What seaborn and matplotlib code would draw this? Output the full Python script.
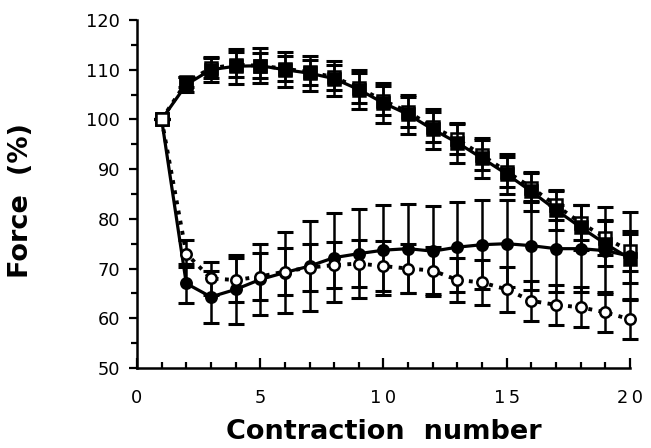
import numpy as np
import pandas as pd
import matplotlib
matplotlib.use("Agg")
import matplotlib.pyplot as plt
import seaborn as sns
from matplotlib.ticker import MultipleLocator

contraction = list(range(1, 21))

sq_filled = [100, 107, 110, 110.7, 110.8, 110, 109.3, 108.2, 106, 103.3, 101, 98, 95.3, 92.2, 89, 85.5, 81.8, 78.3, 75, 72]
sq_filled_err = [0, 1.5, 2.5, 3.5, 3.5, 3.5, 3.5, 3.5, 4, 4, 4, 4, 4, 4, 4, 4, 4, 4.5, 4.5, 5]
sq_open = [100, 107.5, 110.3, 111, 110.8, 110.2, 109.5, 108.5, 106.3, 103.8, 101.5, 98.5, 96, 92.8, 89.5, 86.3, 82.7, 79.2, 76.2, 73.5]
sq_open_err = [0, 1, 2, 2.5, 2.5, 2.5, 2.5, 2.5, 3, 3, 3, 3, 3, 3, 3, 3, 3, 3.5, 3.5, 4]

ci_filled = [100, 67, 64.3, 65.8, 67.8, 69.2, 70.5, 72.2, 73, 73.7, 74, 73.5, 74.3, 74.8, 75, 74.6, 74, 74, 73.6, 72.5]
ci_filled_err = [0, 4, 5.2, 7, 7.2, 8.2, 9, 9, 9, 9, 9, 9, 9, 9, 8.8, 9, 8.8, 8.8, 8.8, 8.8]
ci_open = [100, 73, 68, 67.7, 68.4, 69.4, 70.2, 70.7, 71, 70.5, 70, 69.6, 67.7, 67.2, 65.8, 63.5, 62.7, 62.2, 61.2, 59.8]
ci_open_err = [0, 2.7, 3.3, 4.5, 4.7, 4.7, 4.7, 4.7, 4.7, 5, 5, 4.7, 4.5, 4.5, 4.5, 4, 4, 4, 4, 4]

x_ticks = [0, 5, 10, 15, 20]
x_ticklabels = ["0", "5", "1\u20090", "1\u20095", "2\u20090"]
y_ticks = [50, 60, 70, 80, 90, 100, 110, 120]

sns.set_theme(style="ticks")
plt.rcParams['font.family'] = ['DejaVu Sans']
plt.rcParams['text.color'] = 'black'
plt.rcParams['axes.labelcolor'] = 'black'
plt.rcParams['xtick.color'] = 'black'
plt.rcParams['ytick.color'] = 'black'

fig = plt.figure(figsize=(6.51, 4.48), dpi=100)
ax = fig.add_axes([0.2104, 0.1786, 0.7573, 0.7768])

series = [
    ("open_sq", sq_open, sq_open_err, "s", "white", ":", 3),
    ("filled_sq", sq_filled, sq_filled_err, "s", "black", "-", 5),
    ("filled_ci", ci_filled, ci_filled_err, "o", "black", "-", 3),
    ("open_ci", ci_open, ci_open_err, "o", "white", ":", 5),
]

for name, vals, errs, mk, face, ls, z in series:
    df = pd.DataFrame({"x": contraction, "y": vals})
    ax.errorbar(df["x"], df["y"], yerr=errs, fmt="none", ecolor="black",
                elinewidth=1.8, capsize=5.5, capthick=2.2, zorder=z - 1, clip_on=False)
    sns.lineplot(data=df, x="x", y="y", ax=ax, color="black", linestyle=ls,
                 linewidth=2.3 if ls == "-" else 2.8, marker=mk,
                 markersize=8.5 if mk == "s" else 7.5,
                 markerfacecolor=face, markeredgecolor="black", markeredgewidth=1.8,
                 zorder=z, clip_on=False)

# common starting point (open square on top)
start = pd.DataFrame({"x": contraction[:1], "y": sq_open[:1]})
ax.plot(start["x"], start["y"], linestyle="none", marker="s", markersize=8.5,
        markerfacecolor="white", markeredgecolor="black", markeredgewidth=1.8, zorder=8)

ax.set_xlim(0, 20)
ax.set_ylim(50, 120)
ax.set_xticks(x_ticks)
ax.set_xticklabels(x_ticklabels)
ax.set_yticks(y_ticks)
ax.xaxis.set_minor_locator(MultipleLocator(1))
ax.yaxis.set_minor_locator(MultipleLocator(5))
ax.tick_params(axis="x", which="major", direction="in", length=7, width=1.6, labelsize=12.8, pad=15, color="black", labelcolor="black")
ax.tick_params(axis="x", which="minor", direction="in", length=4, width=1.6, color="black")
ax.tick_params(axis="y", which="major", direction="out", length=6, width=1.6, labelsize=12.8, pad=6, color="black", labelcolor="black")
ax.tick_params(axis="y", which="minor", direction="out", length=4, width=1.6, color="black")

for s in ["top", "right"]:
    ax.spines[s].set_visible(False)
for s in ["left", "bottom"]:
    ax.spines[s].set_linewidth(1.8)
    ax.spines[s].set_color("black")

ax.set_xlabel("Contraction  number", fontsize=19.5, fontweight="bold", color="black")
ax.xaxis.set_label_coords(0.5, -0.148)
ax.xaxis.label.set_va("top")
ax.set_ylabel("Force  (%)", fontsize=19.5, fontweight="bold", color="black")
ax.yaxis.set_label_coords(-0.235, 0.48)
ax.yaxis.label.set_va("center")
if ax.get_legend():
    ax.get_legend().remove()

fig.savefig("out.png", dpi=100)
